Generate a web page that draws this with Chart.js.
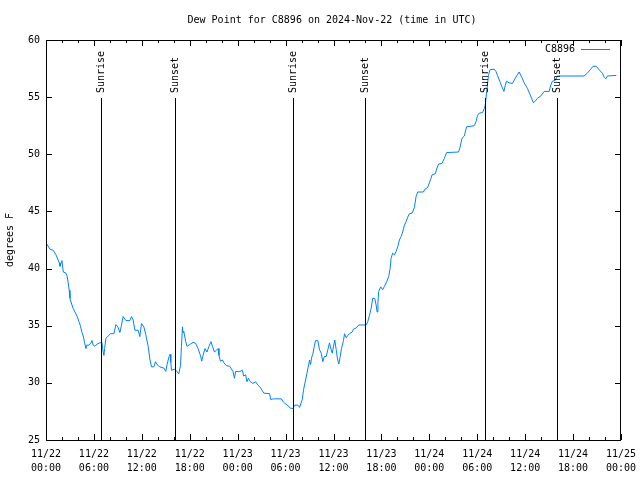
<!DOCTYPE html>
<html>
<head>
<meta charset="utf-8">
<script src="https://cdn.jsdelivr.net/npm/chart.js@4/dist/chart.umd.min.js"></script>
<style>
  html, body { margin: 0; padding: 0; background: #fff; }
  #wrap { width: 640px; height: 480px; }
</style>
</head>
<body>
<div id="wrap"><canvas id="chart" width="640" height="480"></canvas></div>
<script>
// hours since 11/22 00:00 UTC
var hours = [
  0.09, 0.5, 0.91, 1.25, 1.66, 1.75, 2.0, 2.16, 2.5, 2.66, 2.91, 3.0, 3.21, 3.41, 3.63, 3.91,
  4.16, 4.34, 4.5, 4.66, 4.84, 5.0, 5.09, 5.41, 5.63, 5.75, 5.91, 6.13, 6.41, 6.75, 7.0, 7.09,
  7.25, 7.34, 7.5, 7.79, 8.09, 8.5, 8.75, 9.0, 9.25, 9.41, 9.66, 10.0, 10.5, 10.71, 10.91, 11.13,
  11.54, 11.75, 11.96, 12.25, 12.5, 12.79, 13.0, 13.21, 13.5, 13.71, 13.91, 14.25, 14.75, 15.0,
  15.16, 15.41, 15.54, 15.63, 15.71, 16.13, 16.63, 16.84, 16.96, 17.09, 17.16, 17.25, 17.5, 17.66,
  18.0, 18.41, 18.75, 19.04, 19.34, 19.5, 19.66, 19.91, 20.16, 20.41, 20.66, 20.84, 21.09, 21.34,
  21.54, 21.66, 21.84, 22.09, 22.29, 22.59, 23.0, 23.41, 23.59, 23.75, 24.25, 24.59, 24.75, 25.0,
  25.16, 25.34, 25.59, 25.91, 26.25, 26.54, 26.84, 27.09, 27.29, 28.0, 28.13, 28.5, 29.46, 29.75,
  30.29, 30.59, 30.91, 31.13, 31.54, 31.75, 32.09, 32.25, 32.5, 32.84, 33.0, 33.13, 33.25, 33.41,
  33.59, 33.75, 34.04, 34.25, 34.46, 34.66, 34.84, 35.09, 35.29, 35.5, 35.71, 35.84, 36.0, 36.16,
  36.34, 36.5, 36.66, 36.84, 37.0, 37.25, 37.38, 37.59, 37.79, 38.0, 38.34, 38.5, 38.84, 39.16,
  40.09, 40.29, 40.5, 40.71, 40.91, 41.16, 41.34, 41.46, 41.56, 41.66, 41.91, 42.16, 42.38, 42.66,
  42.91, 43.09, 43.21, 43.41, 43.63, 43.84, 44.04, 44.25, 44.46, 44.66, 44.88, 45.09, 45.29, 45.5,
  45.84, 46.13, 46.34, 46.54, 47.25, 47.46, 47.79, 48.0, 48.21, 48.34, 48.75, 48.91, 49.16, 49.59,
  49.88, 50.16, 51.66, 51.84, 52.09, 52.38, 52.66, 53.63, 53.84, 54.04, 54.25, 54.66, 54.88, 55.0,
  55.16, 55.29, 55.41, 55.59, 56.13, 56.34, 56.54, 56.84, 57.09, 57.34, 57.5, 57.66, 58.0, 58.41,
  58.84, 59.25, 59.59, 59.88, 60.29, 60.63, 61.04, 61.25, 61.54, 61.96, 62.38, 63.0, 63.21, 63.41,
  63.75, 64.04, 67.38, 67.79, 68.21, 68.5, 68.91, 69.25, 69.66, 69.88, 70.09, 70.29, 71.41
];
var dewPoint = [
  42.15, 41.7, 41.6, 41.2, 40.5, 40.2, 40.7, 39.7, 39.6, 39.3, 38.1, 37.4, 36.9, 36.5, 36.2, 35.8,
  35.3, 34.9, 34.4, 34.1, 33.5, 33.0, 33.3, 33.3, 33.5, 33.7, 33.3, 33.2, 33.4, 33.5, 33.55, 33.0,
  32.4, 33.0, 33.9, 34.1, 34.3, 34.3, 35.1, 34.9, 34.4, 34.9, 35.8, 35.45, 35.45, 35.8, 35.5, 34.6,
  34.6, 34.05, 35.2, 34.9, 34.2, 33.2, 32.1, 31.4, 31.4, 31.85, 31.6, 31.4, 31.3, 31.0,
  31.6, 32.3, 32.5, 31.8, 31.1, 31.2, 30.8, 31.5, 33.2, 34.9, 34.4, 34.5, 33.6, 33.2,
  33.35, 33.55, 33.45, 33.0, 32.4, 31.9, 32.4, 33.0, 32.7, 33.2, 33.6, 33.2, 32.7, 32.85,
  33.0, 32.4, 31.9, 32.0, 31.75, 31.5, 31.45, 31.0, 30.4, 31.0, 31.0, 31.1, 30.6, 30.7,
  30.1, 30.4, 30.1, 29.95, 30.1, 29.8, 29.6, 29.3, 29.1, 29.05, 28.55, 28.6, 28.6, 28.3,
  28.0, 27.8, 27.75, 28.05, 28.05, 27.85, 28.55, 29.4, 30.25, 31.4, 32.0, 31.6, 32.2, 32.5,
  33.2, 33.7, 33.7, 32.9, 32.6, 31.85, 32.3, 32.3, 32.9, 33.5, 32.9, 32.6, 33.2, 33.75,
  32.9, 32.1, 31.65, 32.3, 33.0, 33.7, 34.3, 33.95, 34.15, 34.3, 34.45, 34.7, 34.8, 35.06,
  35.06, 35.35, 35.9, 36.5, 37.4, 37.4, 36.8, 36.2, 37.0, 38.0, 38.4, 38.15, 38.45, 38.85,
  39.3, 40.0, 40.9, 41.35, 41.2, 41.5, 41.9, 42.5, 42.8, 43.2, 43.8, 44.1, 44.5, 44.8,
  44.85, 45.35, 46.3, 46.7, 46.7, 46.95, 47.1, 47.5, 47.9, 48.2, 48.3, 48.7, 49.15, 49.2,
  49.65, 50.15, 50.2, 50.6, 51.4, 51.6, 52.4, 52.5, 52.85, 53.4, 53.6, 53.65, 54.0, 54.3,
  55.3, 56.2, 56.9, 57.4, 57.45, 57.25, 56.9, 56.35, 55.9, 55.5, 56.0, 56.4, 56.25, 56.2,
  56.75, 57.2, 56.7, 56.25, 55.75, 55.2, 54.5, 54.65, 54.9, 55.1, 55.5, 55.5, 56.06, 56.4,
  56.45, 56.85, 56.85, 57.1, 57.45, 57.7, 57.7, 57.4, 57.1, 56.75, 56.6, 56.85, 56.9
];

// sunrise / sunset markers (hours since 11/22 00:00)
var sunHours = [6.875, 16.125, 30.875, 40.0, 55.0, 64.0];
var sunLabels = ['Sunrise', 'Sunset', 'Sunrise', 'Sunset', 'Sunrise', 'Sunset'];

var dayLabels = ['11/22', '11/23', '11/24', '11/25'];
var FONT = '"DejaVu Sans Mono", "Liberation Mono", monospace';
var LINE_COLOR = '#0080ff';

var points = [];
for (var i = 0; i < hours.length; i++) {
  points.push({x: hours[i], y: dewPoint[i]});
}

function pad2(n) { return (n < 10 ? '0' : '') + n; }

var extras = {
  id: 'extras',
  afterDraw: function(chart) {
    var ctx = chart.ctx;
    var a = chart.chartArea;
    var xs = chart.scales.x, ys = chart.scales.y;
    ctx.save();
    ctx.strokeStyle = '#000';
    ctx.lineWidth = 1;
    ctx.fillStyle = '#000';

    // frame
    ctx.strokeRect(Math.round(a.left) + 0.5, Math.round(a.top) + 0.5,
                   Math.round(a.right - a.left) - 1, Math.round(a.bottom - a.top));

    // x ticks (inward, mirrored top)
    ctx.beginPath();
    for (var h = 0; h <= 72; h += 2) {
      var px = Math.round(xs.getPixelForValue(h)) + 0.5;
      var len = (h % 6 === 0) ? 6 : 3;
      ctx.moveTo(px, a.bottom); ctx.lineTo(px, a.bottom - len);
      ctx.moveTo(px, a.top); ctx.lineTo(px, a.top + len);
    }
    // y ticks (inward, mirrored right)
    for (var v = 25; v <= 60; v += 5) {
      var py = Math.round(ys.getPixelForValue(v)) + 0.5;
      ctx.moveTo(a.left, py); ctx.lineTo(a.left + 6, py);
      ctx.moveTo(a.right, py); ctx.lineTo(a.right - 6, py);
    }
    ctx.stroke();

    // sunrise / sunset lines
    ctx.font = '10px ' + FONT;
    for (var k = 0; k < sunHours.length; k++) {
      var sx = Math.round(xs.getPixelForValue(sunHours[k])) + 0.5;
      ctx.beginPath();
      ctx.moveTo(sx, 98); ctx.lineTo(sx, a.bottom);
      ctx.stroke();
      ctx.save();
      ctx.translate(sx, 93);
      ctx.rotate(-Math.PI / 2);
      ctx.textAlign = 'left';
      ctx.textBaseline = 'middle';
      ctx.fillText(sunLabels[k], 0, 0);
      ctx.restore();
    }

    // title
    ctx.textAlign = 'center';
    ctx.textBaseline = 'middle';
    ctx.fillText('Dew Point for C8896 on 2024-Nov-22 (time in UTC)', 332, 20);

    // y axis label
    ctx.save();
    ctx.translate(10, 240);
    ctx.rotate(-Math.PI / 2);
    ctx.fillText('degrees F', 0, 0);
    ctx.restore();

    // legend
    ctx.textAlign = 'right';
    ctx.fillText('C8896', 575, 49);
    ctx.strokeStyle = LINE_COLOR;
    ctx.beginPath();
    ctx.moveTo(581, 49.5); ctx.lineTo(610, 49.5);
    ctx.stroke();
    ctx.restore();
  }
};

new Chart(document.getElementById('chart').getContext('2d'), {
  type: 'line',
  data: {
    datasets: [{
      label: 'C8896',
      data: points,
      borderColor: LINE_COLOR,
      borderWidth: 1,
      pointRadius: 0,
      tension: 0,
      fill: false
    }]
  },
  options: {
    responsive: false,
    animation: false,
    layout: { padding: { left: 0, top: 40, right: 19, bottom: 0 } },
    plugins: { legend: { display: false }, title: { display: false }, tooltip: { enabled: false } },
    scales: {
      x: {
        type: 'linear',
        min: 0,
        max: 72,
        afterFit: function(s) { s.height = 40; s.paddingLeft = 0; s.paddingRight = 0; },
        afterBuildTicks: function(s) {
          var t = [];
          for (var h = 0; h <= 72; h += 6) t.push({value: h});
          s.ticks = t;
        },
        ticks: {
          autoSkip: false,
          maxRotation: 0,
          padding: 7,
          color: '#000',
          font: { family: FONT, size: 10, lineHeight: 1.4 },
          callback: function(value) {
            var d = Math.floor(value / 24);
            var hr = value % 24;
            return [dayLabels[d], pad2(hr) + ':00'];
          }
        },
        grid: { display: false, drawTicks: false },
        border: { display: false }
      },
      y: {
        min: 25,
        max: 60,
        afterFit: function(s) { s.width = 46; s.paddingTop = 0; s.paddingBottom = 0; },
        ticks: {
          stepSize: 5,
          padding: 6,
          color: '#000',
          font: { family: FONT, size: 10 }
        },
        grid: { display: false, drawTicks: false },
        border: { display: false }
      }
    }
  },
  plugins: [extras]
});
</script>
</body>
</html>
